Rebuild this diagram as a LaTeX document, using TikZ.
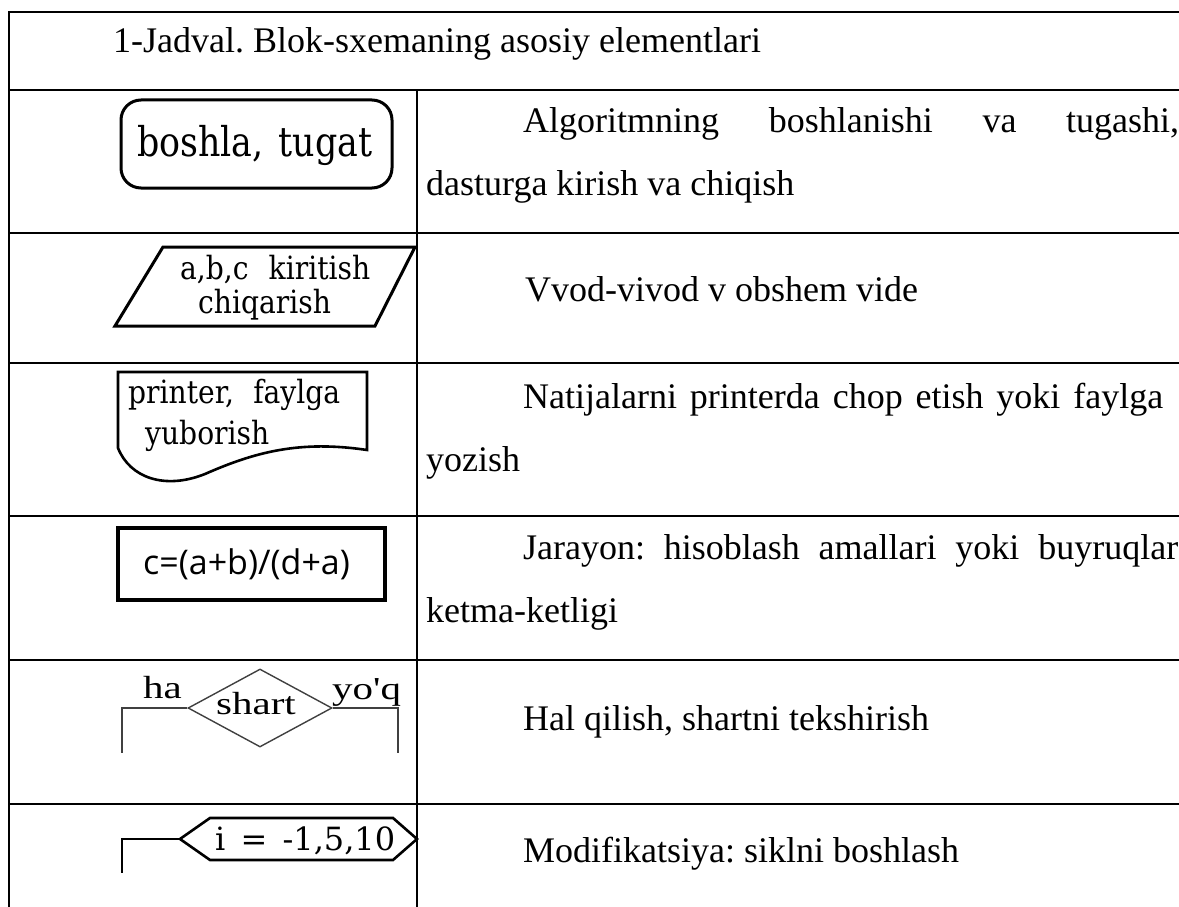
\documentclass[tikz,border=0pt]{standalone}
\usepackage{fontspec}
\setmainfont{Liberation Serif}
\newfontfamily\termfont[FakeStretch=0.85]{DejaVu Serif}
\newfontfamily\shapefont[FakeStretch=0.88]{DejaVu Serif}
\newfontfamily\digitfont{DejaVu Serif}
\newfontfamily\labelfont[FakeStretch=1.28, Ligatures=TeXOff]{Liberation Serif}
\newfontfamily\calcfont{Open Sans}
\usetikzlibrary{shapes.geometric}
\frenchspacing

\begin{document}
\begin{tikzpicture}[x=1pt,y=-1pt,
  grid/.style={line width=2.4pt, line cap=rect},
  body/.style={anchor=base west, inner sep=0pt, font=\fontsize{36}{36}\selectfont},
  symtext/.style={anchor=base west, inner sep=0pt, font=\shapefont\fontsize{32}{32}\selectfont},
  thickline/.style={line width=3pt, line join=miter},
  thinline/.style={line width=1.4pt, draw=black!75},
  branch/.style={anchor=base west, inner sep=0pt, font=\labelfont\fontsize{32}{32}\selectfont}
]
\useasboundingbox (0,0) rectangle (1179,907);
\clip (0,0) rectangle (1179,907);

% ---- table grid ----
\draw[grid] (9,12) -- (1190,12);
\foreach \yy in {90,233,363,516,660,804}
  \draw[grid] (9,\yy) -- (1190,\yy);
\draw[grid] (9,12) -- (9,920);
\draw[grid] (417,90) -- (417,920);

% ---- header ----
\node[body] (head) at (113,53) {1-Jadval. Blok-sxemaning asosiy elementlari};

% ---- descriptions ----
\node[body] (r1a) at (523,132) {\makebox[656pt][s]{Algoritmning boshlanishi va tugashi,}};
\node[body] (r1b) at (426,195) {dasturga kirish va chiqish};
\node[body] (r2)  at (525,301) {Vvod-vivod v obshem vide};
\node[body] (r3a) at (523,408) {\makebox[640pt][s]{Natijalarni printerda chop etish yoki faylga}};
\node[body] (r3b) at (426,471) {yozish};
\node[body] (r4a) at (523,559) {\makebox[655pt][s]{Jarayon: hisoblash amallari yoki buyruqlar}};
\node[body] (r4b) at (426,622) {ketma-ketligi};
\node[body] (r5)  at (523,730) {Hal qilish, shartni tekshirish};
\node[body] (r6)  at (523,862) {Modifikatsiya: siklni boshlash};

% ---- terminal ----
\node[draw, thickline, rounded corners=20pt, minimum width=271pt, minimum height=88pt,
      inner sep=0pt] (term) at (256.5,144) {};
\node[anchor=base west, inner sep=0pt, font=\termfont\fontsize{41}{41}\selectfont] (termtxt) at (137,157)
      {\makebox[235pt][s]{boshla, tugat}};

% ---- input / output ----
\coordinate (ioA) at (163,247);
\coordinate (ioB) at (415,247);
\coordinate (ioC) at (375,326);
\coordinate (ioD) at (115,326);
\draw[thickline] (ioA) -- (ioB) -- (ioC) -- (ioD) -- cycle;
\node[symtext] (io1) at (180,279) {\makebox[190pt][s]{a,b,c kiritish}};
\node[symtext] (io2) at (198,313) {chiqarish};

% ---- document ----
\coordinate (docA) at (118,448);
\coordinate (docB) at (118,372);
\coordinate (docC) at (367,372);
\coordinate (docD) at (367,450);
\draw[line width=2.6pt, line join=miter] (docA) -- (docB) -- (docC) -- (docD)
  .. controls (300,440) and (255,452) .. (205,474)
  .. controls (165,490) and (130,478) .. (docA) -- cycle;
\node[symtext] (doc1) at (128,403) {\makebox[212pt][s]{printer, faylga}};
\node[symtext] (doc2) at (145,444) {yuborish};

% ---- process ----
\node[draw, line width=3.2pt, minimum width=267pt, minimum height=72pt, inner sep=0pt] (proc) at (251.5,564) {};
\node[anchor=base west, inner sep=0pt, font=\calcfont\fontsize{34}{34}\selectfont] (calc) at (143,574) {c=(a+b)/(d+a)};

% ---- decision ----
\node[shape=diamond, draw, thinline, minimum width=144pt, minimum height=78pt, inner sep=0pt] (cond) at (260,708) {};
\node[branch] (condtxt) at (216,714) {shart};
\node[branch] (yes) at (143,698) {ha};
\node[branch] (no) at (332,699) {yo'q};
\coordinate (yesEnd) at (122,753);
\coordinate (noEnd) at (398,753);
\draw[thinline] (cond.west) -| (yesEnd);
\draw[thinline] (cond.east) -| (noEnd);

% ---- modification ----
\coordinate (hxL) at (180,839);
\coordinate (hxTL) at (210,818);
\coordinate (hxTR) at (393,818);
\coordinate (hxR) at (417,839);
\coordinate (hxBR) at (393,860);
\coordinate (hxBL) at (210,860);
\draw[line width=2.6pt, line join=miter] (hxL) -- (hxTL) -- (hxTR) -- (hxR) -- (hxBR) -- (hxBL) -- cycle;
\node[anchor=base west, inner sep=0pt, font=\digitfont\fontsize{32}{32}\selectfont] (modtxt) at (215,850)
      {\makebox[180pt][s]{i = -1,5,10}};
\coordinate (modEnd) at (122,873);
\draw[line width=1.8pt] (hxL) -| (modEnd);
\end{tikzpicture}
\end{document}
